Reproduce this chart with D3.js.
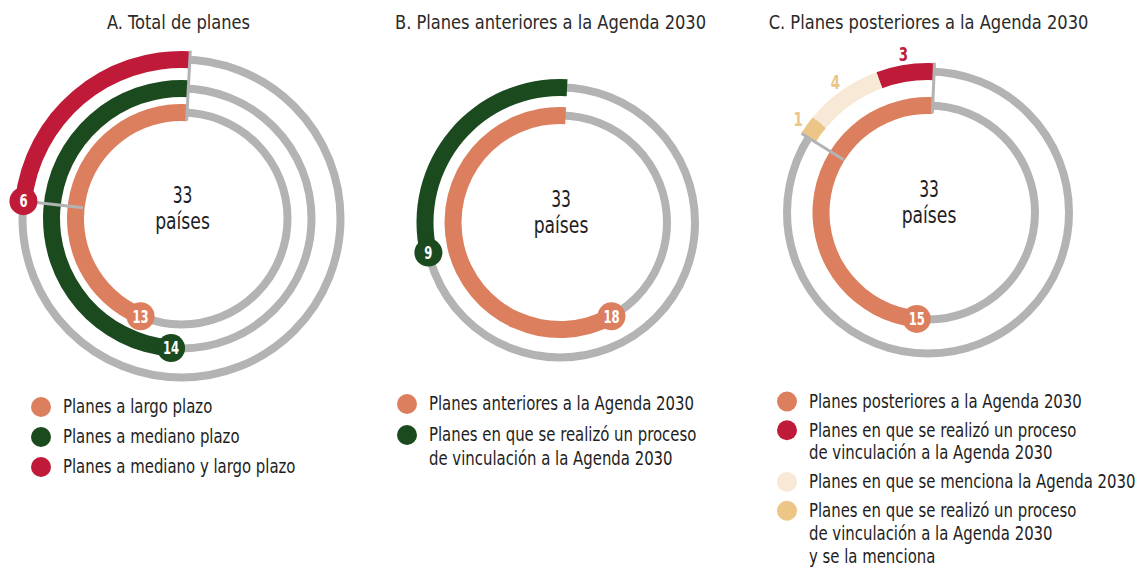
<!DOCTYPE html>
<html>
<head>
<meta charset="utf-8">
<script src="https://cdn.jsdelivr.net/npm/d3@7"></script>
<style>
  body { margin: 0; background: #fff; }
  svg text { font-family: "Liberation Sans Narrow", "DejaVu Sans Condensed", "Roboto Condensed", sans-serif; }
</style>
</head>
<body>
<svg id="chart" width="1141" height="567"></svg>
<script>
// ---- Data ----
const panelTitles = [
  "A. Total de planes",
  "B. Planes anteriores a la Agenda 2030",
  "C. Planes posteriores a la Agenda 2030"
];
const countryCount = 33;
const countryWord = "países";

// A. Plan horizon
const horizonCategories = ["Planes a largo plazo", "Planes a mediano plazo", "Planes a mediano y largo plazo"];
const horizonValues = [13, 14, 6];

// B. Plans prior to the 2030 Agenda
const priorCategories = ["Planes anteriores a la Agenda 2030", "Planes en que se realizó un proceso\nde vinculación a la Agenda 2030"];
const priorValues = [18, 9];

// C. Plans after the 2030 Agenda
const laterCategories = ["Planes posteriores a la Agenda 2030"];
const laterValues = [15];
const linkCategories = [
  "Planes en que se realizó un proceso\nde vinculación a la Agenda 2030",
  "Planes en que se menciona la Agenda 2030",
  "Planes en que se realizó un proceso\nde vinculación a la Agenda 2030\ny se la menciona"
];
const linkValues = [3, 4, 1];

// ---- Styling ----
const C = {
  orange: "#dc7f5e", green: "#1b4a1f", red: "#bf1b39",
  cream: "#f8e9d6", gold: "#ecc686", track: "#b3b3b3", ink: "#1e1e1e"
};
const deg = Math.PI / 180;
const TRACK_W = 8, BAND_W = 17, SEP_W = 3, BADGE_R = 14;

const svg = d3.select("#chart");

// Text squeezed horizontally so the face reads as a condensed type.
function label(g, x, y, txt, o) {
  return g.append("text")
    .attr("transform", `translate(${x},${y}) scale(${o.squeeze},1)`)
    .attr("text-anchor", o.anchor || "start")
    .attr("font-size", o.size)
    .attr("font-weight", o.weight || "normal")
    .attr("fill", o.fill)
    .text(txt);
}

// Angular scale: value -> angle, running counter-clockwise from the start.
function angleScale(start, turn) {
  return d3.scaleLinear().domain([0, turn]).range([start, start - 2 * Math.PI]);
}
function polar(cx, cy, r, a) { return [cx + r * Math.sin(a), cy - r * Math.cos(a)]; }

function drawPanel(p) {
  const g = svg.append("g");
  const [cx, cy] = p.center;

  label(g, p.titleX, 29, p.title, { anchor: "middle", size: 20, fill: "#2a2a2a", squeeze: 0.905 });

  // full grey tracks
  p.rings.forEach(ring => {
    g.append("circle").attr("cx", cx).attr("cy", cy).attr("r", ring.r)
      .attr("fill", "none").attr("stroke", C.track).attr("stroke-width", TRACK_W);
  });

  const badges = [];
  const seps = [];
  p.rings.forEach(ring => {
    const sc = angleScale(p.start, ring.turn);
    const arc = d3.arc().innerRadius(ring.r - BAND_W / 2).outerRadius(ring.r + BAND_W / 2);
    let acc = 0;
    ring.values.forEach((v, i) => {
      g.append("path")
        .attr("transform", `translate(${cx},${cy})`)
        .attr("d", arc({ startAngle: sc(acc + v), endAngle: sc(acc) }))
        .attr("fill", ring.colors[i]);
      const mid = sc(acc + v / 2);
      if (ring.outsideLabels) {
        const [lx, ly] = polar(cx, cy, ring.r + 19, mid);
        badges.push({ type: "out", x: lx, y: ly, text: v, color: ring.labelColors[i] });
      }
      acc += v;
    });
    const endA = sc(acc);
    if (!ring.outsideLabels) {
      const [bx, by] = polar(cx, cy, ring.r, endA);
      badges.push({ type: "badge", x: bx, y: by, text: acc, color: ring.colors[0] });
    }
    if (ring.endSeparator) seps.push({ a: endA, r0: ring.endSeparator[0], r1: ring.endSeparator[1] });
  });
  if (p.startSeparator) seps.push({ a: p.start, r0: p.startSeparator[0], r1: p.startSeparator[1] });

  seps.forEach(s => {
    const [x0, y0] = polar(cx, cy, s.r0, s.a);
    const [x1, y1] = polar(cx, cy, s.r1, s.a);
    g.append("line").attr("x1", x0).attr("y1", y0).attr("x2", x1).attr("y2", y1)
      .attr("stroke", C.track).attr("stroke-width", SEP_W);
  });

  badges.forEach(b => {
    if (b.type === "badge") {
      g.append("circle").attr("cx", b.x).attr("cy", b.y).attr("r", BADGE_R).attr("fill", b.color);
      label(g, b.x, b.y + 6.3, b.text,
        { anchor: "middle", size: 17.5, weight: "bold", fill: "#fff", squeeze: 0.74 });
    } else {
      label(g, b.x, b.y + 7, b.text,
        { anchor: "middle", size: 19, weight: "bold", fill: b.color, squeeze: 0.78 });
    }
  });

  // centre caption
  label(g, cx + 1, cy - 16, countryCount, { anchor: "middle", size: 23, fill: C.ink, squeeze: 0.75 });
  label(g, cx + 1, cy + 10.5, countryWord, { anchor: "middle", size: 23, fill: C.ink, squeeze: 0.83 });

  // legend
  const lg = p.legend;
  let y = lg.y;
  lg.items.forEach(it => {
    const lines = it.label.split("\n");
    g.append("circle").attr("cx", lg.x).attr("cy", y).attr("r", 10).attr("fill", it.color);
    lines.forEach((ln, k) => {
      label(g, lg.x + 22, y + 6.3 + k * lg.lineH, ln, { size: 19, fill: C.ink, squeeze: 0.872 });
    });
    y += (lines.length - 1) * lg.lineH + lg.gap;
  });
}

drawPanel({
  title: panelTitles[0], titleX: 178.5, center: [181.5, 218.5], start: 3 * deg,
  rings: [
    { r: 106, values: [horizonValues[0]], colors: [C.orange], turn: 29.2 },
    { r: 130, values: [horizonValues[1]], colors: [C.green], turn: 28.25 },
    { r: 159, values: [horizonValues[2]], colors: [C.red], turn: 24.9, endSeparator: [99, 146] }
  ],
  startSeparator: [98, 168],
  legend: { x: 41, y: 407, gap: 30, lineH: 23.2, items: [
    { label: horizonCategories[0], color: C.orange },
    { label: horizonCategories[1], color: C.green },
    { label: horizonCategories[2], color: C.red }
  ] }
});

drawPanel({
  title: panelTitles[1], titleX: 550.5, center: [560, 222.5], start: 3 * deg,
  rings: [
    { r: 107, values: [priorValues[0]], colors: [C.orange], turn: 30.6 },
    { r: 135, values: [priorValues[1]], colors: [C.green], turn: 30.6 }
  ],
  legend: { x: 407, y: 404, gap: 31, lineH: 23.2, items: [
    { label: priorCategories[0], color: C.orange },
    { label: priorCategories[1], color: C.green }
  ] }
});

drawPanel({
  title: panelTitles[2], titleX: 928.5, center: [928, 212.5], start: 2.5 * deg,
  rings: [
    { r: 107, values: laterValues, colors: [C.orange], turn: 30.6 },
    { r: 141, values: linkValues, colors: [C.red, C.cream, C.gold], labelColors: [C.red, C.gold, C.gold],
      turn: 47.6, outsideLabels: true, endSeparator: [99.5, 149] }
  ],
  startSeparator: [99.5, 150],
  legend: { x: 787, y: 401.5, gap: 28.8, lineH: 22.8, items: [
    { label: laterCategories[0], color: C.orange },
    { label: linkCategories[0], color: C.red },
    { label: linkCategories[1], color: C.cream },
    { label: linkCategories[2], color: C.gold }
  ] }
});
</script>
</body>
</html>
